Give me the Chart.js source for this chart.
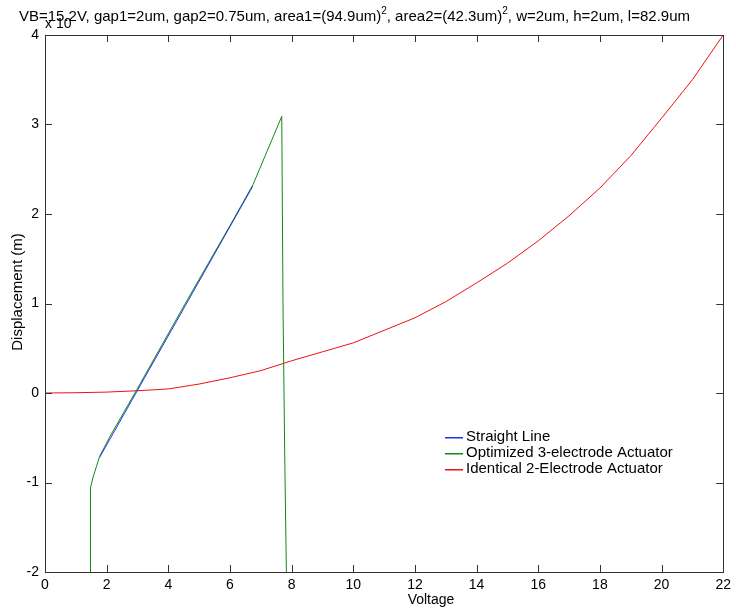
<!DOCTYPE html>
<html>
<head>
<meta charset="utf-8">
<script src="https://cdn.jsdelivr.net/npm/chart.js"></script>
<style>
  html, body { margin: 0; padding: 0; background: #fff; }
  #wrap { width: 736px; height: 611px; }
</style>
</head>
<body>
<div id="wrap"><canvas id="plot"></canvas></div>
<script>
// title pieces: [text, isSuperscript]
const titleParts = [
  ['VB=15.2V, gap1=2um, gap2=0.75um, area1=(94.9um)', false],
  ['2', true],
  [', area2=(42.3um)', false],
  ['2', true],
  [', w=2um, h=2um, l=82.9um', false]
];
const seriesNames = ['Straight Line', 'Optimized 3-electrode Actuator', 'Identical 2-Electrode Actuator'];
const seriesColors = ['#2233ee', '#138a13', '#ee1111'];
const xTicks = [0, 2, 4, 6, 8, 10, 12, 14, 16, 18, 20, 22];
const yTicks = [-2, -1, 0, 1, 2, 3, 4];

// Straight Line (blue)
const lineX = [1.77, 6.74];
const lineY = [-0.72, 2.31];

// Optimized 3-electrode Actuator (green)
const optX = [1.47, 1.47, 1.48, 1.56, 1.77, 2.10, 3.0, 4.5, 6.0, 6.75, 7.68, 7.72, 7.78, 7.83];
const optY = [-2.0, -1.55, -1.06, -0.94, -0.71, -0.49, 0.05, 0.97, 1.87, 2.33, 3.09, 1.0, -0.8, -2.0];

// Identical 2-Electrode Actuator (red)
const idX = [0, 1, 2, 3, 4, 5, 6, 7, 8, 9, 10, 11, 12, 13, 14, 15, 16, 17, 18, 19, 20, 21, 22];
const idY = [0, 0.003, 0.01, 0.025, 0.045, 0.1, 0.17, 0.25, 0.36, 0.46, 0.56, 0.7, 0.84, 1.02, 1.23, 1.45, 1.7, 1.98, 2.29, 2.65, 3.07, 3.5, 4.0];

const pts = (xs, ys) => xs.map((x, i) => ({ x: x, y: ys[i] }));
const FONT = '"Liberation Sans", Arial, sans-serif';

// matlab style box, inward ticks, title, labels, legend
const matlabFrame = {
  id: 'matlabFrame',
  afterDraw(chart) {
    const ctx = chart.ctx;
    const a = chart.chartArea;
    const sx = chart.scales.x, sy = chart.scales.y;
    ctx.save();
    ctx.strokeStyle = '#333';
    ctx.lineWidth = 1;
    ctx.strokeRect(Math.round(a.left) + 0.5, Math.round(a.top) + 0.5,
      Math.round(a.right - a.left), Math.round(a.bottom - a.top));
    ctx.beginPath();
    xTicks.forEach(v => {
      const px = Math.round(sx.getPixelForValue(v)) + 0.5;
      ctx.moveTo(px, a.bottom); ctx.lineTo(px, a.bottom - 7);
      ctx.moveTo(px, a.top); ctx.lineTo(px, a.top + 7);
    });
    yTicks.forEach(v => {
      const py = Math.round(sy.getPixelForValue(v)) + 0.5;
      ctx.moveTo(a.left, py); ctx.lineTo(a.left + 7, py);
      ctx.moveTo(a.right, py); ctx.lineTo(a.right - 7, py);
    });
    ctx.stroke();

    ctx.fillStyle = '#000';
    ctx.textBaseline = 'alphabetic';
    // title
    let tx = 19;
    titleParts.forEach(([t, sup]) => {
      ctx.font = (sup ? '10px ' : '15px ') + FONT;
      ctx.fillText(t, tx, sup ? 14 : 21);
      tx += ctx.measureText(t).width;
    });
    // exponent marker
    ctx.font = '14px ' + FONT;
    ctx.fillText('x 10', 45, 28);
    // axis labels
    ctx.textAlign = 'center';
    ctx.fillText('Voltage', 431, 604);
    ctx.save();
    ctx.translate(22, 292);
    ctx.rotate(-Math.PI / 2);
    ctx.font = '15px ' + FONT;
    ctx.fillText('Displacement (m)', 0, 0);
    ctx.restore();

    // legend
    ctx.textAlign = 'left';
    ctx.textBaseline = 'middle';
    ctx.font = '15px ' + FONT;
    chart.data.datasets.forEach((ds, i) => {
      const y = 437 + i * 16;
      ctx.fillStyle = seriesColors[i];
      ctx.fillRect(445, y, 18, 1.5);
      ctx.fillStyle = '#000';
      ctx.fillText(ds.label, 466, y);
    });
    ctx.restore();
  }
};

new Chart(document.getElementById('plot'), {
  type: 'scatter',
  data: {
    datasets: [
      { label: seriesNames[0], data: pts(lineX, lineY), borderColor: seriesColors[0], showLine: true },
      { label: seriesNames[1], data: pts(optX, optY), borderColor: seriesColors[1], showLine: true },
      { label: seriesNames[2], data: pts(idX, idY), borderColor: seriesColors[2], showLine: true }
    ]
  },
  options: {
    responsive: true,
    maintainAspectRatio: false,
    animation: false,
    layout: { padding: { top: 35, right: 9, left: 0, bottom: 0 } },
    elements: {
      point: { radius: 0 },
      line: { borderWidth: 1, tension: 0 }
    },
    plugins: {
      legend: { display: false },
      title: { display: false },
      tooltip: { enabled: false }
    },
    scales: {
      x: {
        type: 'linear', min: 0, max: 22,
        afterFit: s => { s.height = 39; },
        afterBuildTicks: s => { s.ticks = xTicks.map(v => ({ value: v })); },
        grid: { display: false, drawTicks: false },
        border: { display: false },
        ticks: { color: '#000', font: { family: FONT, size: 14 }, padding: 5, maxRotation: 0 }
      },
      y: {
        type: 'linear', min: -2, max: 4,
        afterFit: s => { s.width = 45; },
        afterBuildTicks: s => { s.ticks = yTicks.map(v => ({ value: v })); },
        grid: { display: false, drawTicks: false },
        border: { display: false },
        ticks: { color: '#000', font: { family: FONT, size: 14 }, padding: 6 }
      }
    }
  },
  plugins: [matlabFrame]
});
</script>
</body>
</html>
